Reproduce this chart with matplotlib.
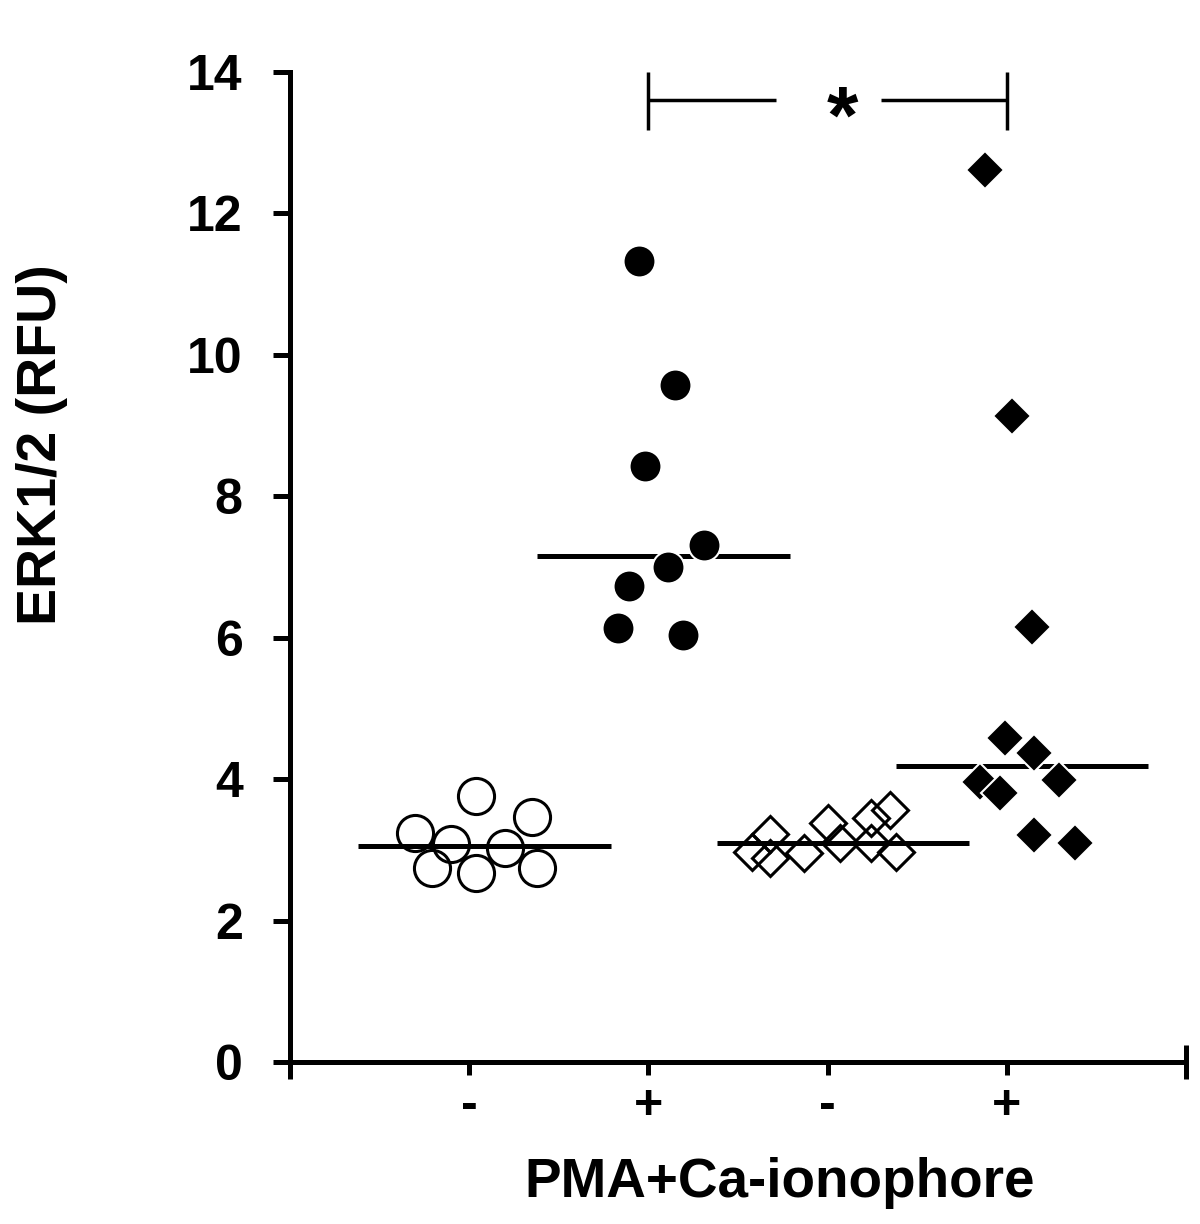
import numpy as np
import matplotlib as mpl
mpl.use('Agg')
import matplotlib.pyplot as plt

plt.rcParams['font.family'] = ['Liberation Sans', 'DejaVu Sans']
plt.rcParams['font.weight'] = 'bold'

# values (RFU), with horizontal scatter offsets per point
ctrl_open = [3.76, 3.46, 3.24, 3.08, 3.03, 2.74, 2.67, 2.74]
ctrl_open_dx = [0.04, 0.35, -0.30, -0.10, 0.20, -0.21, 0.04, 0.38]

ctrl_pma = [11.33, 9.57, 8.43, 7.31, 7.00, 6.73, 6.14, 6.04]
ctrl_pma_dx = [-0.05, 0.15, -0.02, 0.31, 0.11, -0.11, -0.17, 0.19]

pat_open = [3.22, 2.97, 2.88, 2.96, 3.38, 3.10, 3.45, 3.56, 3.10, 2.97]
pat_open_dx = [-0.32, -0.42, -0.32, -0.13, 0.0, 0.07, 0.24, 0.35, 0.24, 0.38]

pat_pma = [12.61, 9.14, 6.15, 4.58, 4.37, 3.96, 3.99, 3.80, 3.21, 3.10]
pat_pma_dx = [-0.12, 0.03, 0.14, -0.01, 0.15, -0.15, 0.29, -0.04, 0.15, 0.38]

positions = [1, 2, 3, 4]
tick_labels = ['-', '+', '-', '+']

fig = plt.figure(figsize=(12, 12.24), dpi=100)
ax = fig.add_axes([0.2417, 0.1324, 0.7467, 0.8088])

groups = [
    (ctrl_open, ctrl_open_dx, dict(marker='o', ms=26, mfc='none', mec='black', mew=2.2, zorder=2)),
    (ctrl_pma, ctrl_pma_dx, dict(marker='o', ms=23, mfc='black', mec='white', mew=1.5, zorder=4)),
    (pat_open, pat_open_dx, dict(marker='D', ms=18, mfc='none', mec='black', mew=2.2, zorder=2)),
    (pat_pma, pat_pma_dx, dict(marker='D', ms=19, mfc='black', mec='white', mew=1.5, zorder=4)),
]

for pos, (vals, dx, style) in zip(positions, groups):
    xs = pos + np.array(dx)
    ax.plot(xs, vals, linestyle='none', **style)
    med = np.median(vals)
    ax.plot([pos - 0.62, pos + 0.79], [med, med], color='black', lw=3.6,
            solid_capstyle='butt', zorder=3)

# significance bracket between the two stimulated groups
ax.plot([2, 2.71], [13.6, 13.6], color='black', lw=2.5, solid_capstyle='butt')
ax.plot([3.30, 4], [13.6, 13.6], color='black', lw=2.5, solid_capstyle='butt')
ax.plot([2, 2], [13.18, 14.0], color='black', lw=2.5, solid_capstyle='butt')
ax.plot([4, 4], [13.18, 14.0], color='black', lw=2.5, solid_capstyle='butt')
ax.text(3.08, 13.3, '*', ha='center', va='center', fontsize=58, fontweight='bold')

ax.set_xlim(0, 5)
ax.set_ylim(0, 14)
ax.set_yticks(np.arange(0, 15, 2))
ax.set_xticks(positions)
ax.set_xticklabels(tick_labels)
ax.set_xticks([0, 5], minor=True)

for s in ['top', 'right']:
    ax.spines[s].set_visible(False)
for s in ['left', 'bottom']:
    ax.spines[s].set_linewidth(3.6)

ax.tick_params(axis='y', direction='out', length=12, width=3.6, pad=22, labelsize=36)
ax.tick_params(axis='x', which='major', direction='out', length=9, width=3.6, pad=6, labelsize=36)
ax.tick_params(axis='x', which='minor', direction='inout', length=24, width=3.6)

fig.text(42 / 1200, 1 - 445 / 1224, 'ERK1/2 (RFU)', rotation=90, ha='center', va='center',
         fontsize=40, fontweight='bold')
fig.text(780 / 1200, 1 - 1183 / 1224, 'PMA+Ca-ionophore', ha='center', va='center',
         fontsize=39.5, fontweight='bold')

fig.savefig('out.png', dpi=100)
